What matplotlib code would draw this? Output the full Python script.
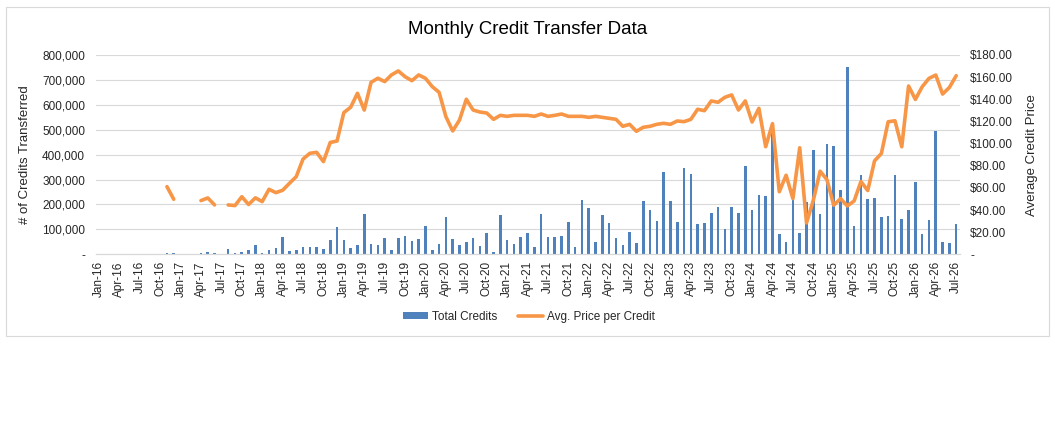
import numpy as np
import pandas as pd
import matplotlib
matplotlib.use("Agg")
import matplotlib.pyplot as plt
from matplotlib.patches import Rectangle
from matplotlib.ticker import FuncFormatter, MultipleLocator

plt.rcParams["font.family"] = ["Liberation Sans", "DejaVu Sans"]

# ---------------- data ----------------
months = pd.date_range("2016-01-01", periods=127, freq="MS").strftime("%b-%y").tolist()

total_credits = [
    0, 0, 0, 0, 0, 0, 0, 0, 0, 0,
    4000, 4000, 0, 0, 3000, 5000, 9000, 5000, 0, 21000,
    7000, 9000, 17000, 37000, 7000, 17000, 25000, 69000, 13000, 17000,
    29000, 29000, 29000, 21000, 57000, 109000, 57000, 25000, 37000, 161000,
    41000, 37000, 65000, 17000, 65000, 73000, 53000, 61000, 113000, 17000,
    41000, 149000, 61000, 37000, 49000, 65000, 33000, 85000, 9000, 157000,
    57000, 41000, 69000, 85000, 29000, 161000, 69000, 69000, 73000, 129000,
    29000, 217000, 185000, 49000, 157000, 125000, 65000, 37000, 89000, 45000,
    213000, 177000, 133000, 329000, 213000, 129000, 345000, 321000, 121000, 125000,
    165000, 189000, 101000, 189000, 165000, 353000, 177000, 237000, 236000, 497000,
    80000, 48000, 262000, 84000, 208000, 420000, 160000, 444000, 436000, 260000,
    752000, 113000, 320000, 220000, 224000, 148000, 152000, 320000, 140000, 176000,
    292000, 80000, 136000, 496000, 48000, 44000, 120000,
]

avg_price = [
    None, None, None, None, None, None, None, None, None, None,
    61.1, 49.7, None, None, None, 48.5, 50.9, 44.6, None, 44.6,
    44.0, 52.0, 45.0, 51.0, 47.6, 58.7, 55.7, 57.8, 64.1, 70.1,
    86.0, 91.2, 92.1, 83.7, 101.0, 102.3, 128.0, 132.8, 145.4, 130.3,
    155.3, 159.0, 156.0, 162.0, 165.6, 160.4, 156.8, 162.0, 158.9, 151.4,
    146.3, 124.3, 111.4, 121.3, 140.0, 130.3, 128.5, 127.6, 121.9, 125.5,
    124.6, 125.5, 125.5, 125.5, 124.6, 126.7, 124.6, 125.5, 126.7, 124.6,
    124.6, 124.6, 123.7, 124.6, 123.7, 122.8, 121.9, 115.6, 117.4, 111.1,
    114.7, 115.6, 117.4, 118.3, 117.4, 120.4, 119.8, 121.9, 131.0, 129.7,
    138.5, 137.3, 141.8, 143.9, 130.3, 138.5, 119.5, 131.8, 97.2, 118.0,
    56.5, 71.4, 50.3, 96.2, 28.3, 48.8, 75.0, 67.5, 44.3, 50.3,
    43.7, 48.2, 65.7, 57.6, 84.4, 91.0, 119.7, 120.6, 97.1, 152.0,
    139.9, 151.3, 158.9, 161.9, 144.7, 150.7, 161.3,
]

C_BAR = "#4F81BD"
C_LINE = "#F79646"
C_GRID = "#D9D9D9"
C_TEXT = "#262626"

# ---------------- figure ----------------
W, H = 1055, 422
fig = plt.figure(figsize=(W / 100, H / 100), dpi=100)
fig.patch.set_facecolor("white")

left, right, top, bottom = 95.5, 959.6, 55, 254.3
ax = fig.add_axes([left / W, 1 - bottom / H, (right - left) / W, (bottom - top) / H])
ax2 = ax.twinx()

x = np.arange(len(months))
price = np.array([np.nan if v is None else v for v in avg_price], dtype=float)

ax.bar(x, total_credits, width=0.38, color=C_BAR, label="Total Credits", zorder=2)
ax2.plot(x, price, color=C_LINE, linewidth=2.6, solid_joinstyle="round",
         solid_capstyle="round", label="Avg. Price per Credit", zorder=3)

ax.set_xlim(-0.5, len(months) - 0.5)
ax.set_ylim(0, 800000)
ax2.set_ylim(0, 180)
ax.yaxis.set_major_locator(MultipleLocator(100000))
ax2.yaxis.set_major_locator(MultipleLocator(20))

ax.yaxis.set_major_formatter(FuncFormatter(lambda v, p: "-" if v == 0 else f"{v:,.0f}"))
ax2.yaxis.set_major_formatter(FuncFormatter(lambda v, p: "-" if v == 0 else f"${v:,.2f}"))

ax.set_xticks(x[::3])
ax.set_xticklabels(months[::3], rotation=90, fontsize=8.5, color=C_TEXT)

ax.tick_params(axis="x", length=0, pad=5)
ax.tick_params(axis="y", length=0, pad=7.5, labelsize=8.5, labelcolor=C_TEXT)
ax2.tick_params(axis="y", length=0, pad=7.5, labelsize=8.5, labelcolor=C_TEXT)

ax.yaxis.grid(True, color=C_GRID, linewidth=0.8)
ax.set_axisbelow(True)

for a in (ax, ax2):
    for s in ("top", "left", "right"):
        a.spines[s].set_visible(False)
    a.spines["bottom"].set_color(C_GRID)
    a.patch.set_visible(False)

ax.set_ylabel("# of Credits Transferred", fontsize=9.5, color=C_TEXT)
ax.yaxis.set_label_coords((31 - left) / (right - left), 0.5)
ax2.set_ylabel("Average Credit Price", fontsize=9.5, color=C_TEXT)
ax2.yaxis.set_label_coords((1026 - left) / (right - left), 0.5)

fig.text(0.5, 1 - 30 / H, "Monthly Credit Transfer Data", ha="center", va="center",
         fontsize=13.5, color="black")

h1, l1 = ax.get_legend_handles_labels()
h2, l2 = ax2.get_legend_handles_labels()
fig.legend(h1 + h2, l1 + l2, loc="center", bbox_to_anchor=(529 / W, 1 - 317 / H),
           ncol=2, frameon=False, fontsize=8.5, handlelength=2.1, handleheight=0.5,
           handletextpad=0.35, columnspacing=1.7, labelcolor=C_TEXT)

# chart-area border
fig.add_artist(Rectangle((6 / W, 1 - 336 / H), (1049 - 6) / W, (336 - 7) / H,
                         transform=fig.transFigure, fill=False, edgecolor=C_GRID,
                         linewidth=0.8))

fig.savefig("out.png", dpi=100)
plt.close(fig)
